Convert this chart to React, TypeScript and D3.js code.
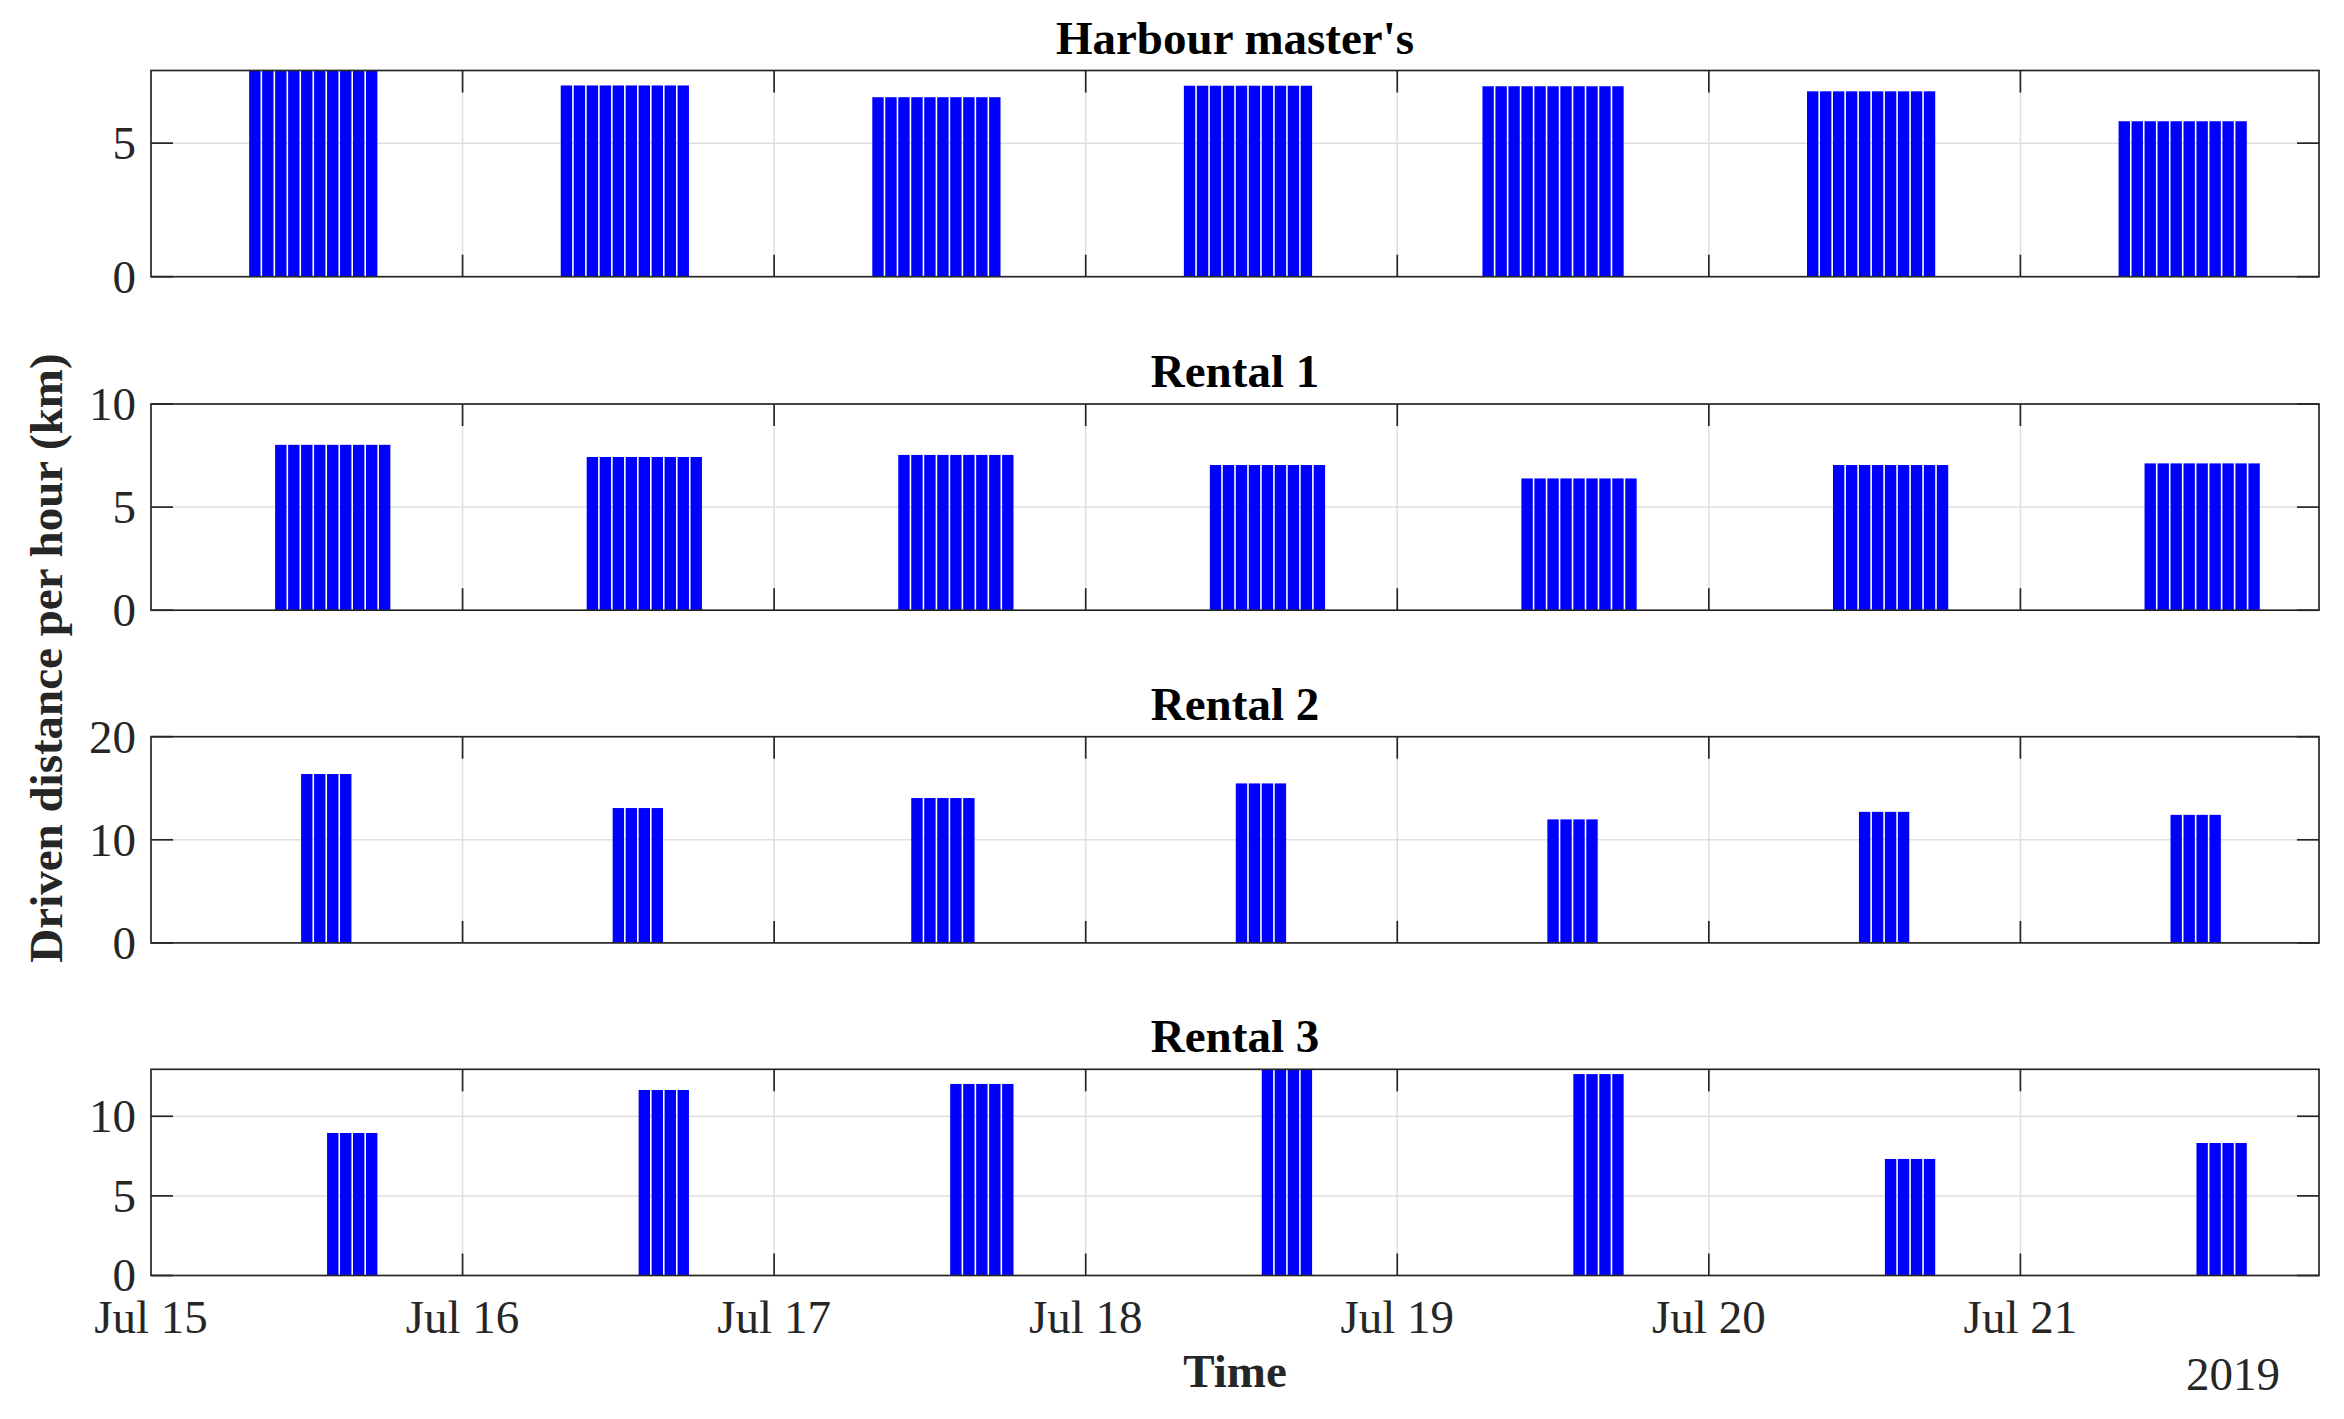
import React from "react";
import * as d3 from "d3";

// ---- Data ----
const dayLabels = ["Jul 15", "Jul 16", "Jul 17", "Jul 18", "Jul 19", "Jul 20", "Jul 21"];
const dayOfMonth = [15, 16, 17, 18, 19, 20, 21];
const yearLabel = "2019";

const titles = ["Harbour master's", "Rental 1", "Rental 2", "Rental 3"];

// active hours (bar centres) per day
const harbourHours = [
  [8, 9, 10, 11, 12, 13, 14, 15, 16, 17],
  [8, 9, 10, 11, 12, 13, 14, 15, 16, 17],
  [8, 9, 10, 11, 12, 13, 14, 15, 16, 17],
  [8, 9, 10, 11, 12, 13, 14, 15, 16, 17],
  [7, 8, 9, 10, 11, 12, 13, 14, 15, 16, 17],
  [8, 9, 10, 11, 12, 13, 14, 15, 16, 17],
  [8, 9, 10, 11, 12, 13, 14, 15, 16, 17],
];
const rental1Hours = [
  [10, 11, 12, 13, 14, 15, 16, 17, 18],
  [10, 11, 12, 13, 14, 15, 16, 17, 18],
  [10, 11, 12, 13, 14, 15, 16, 17, 18],
  [10, 11, 12, 13, 14, 15, 16, 17, 18],
  [10, 11, 12, 13, 14, 15, 16, 17, 18],
  [10, 11, 12, 13, 14, 15, 16, 17, 18],
  [10, 11, 12, 13, 14, 15, 16, 17, 18],
];
const rental2Hours = [
  [12, 13, 14, 15],
  [12, 13, 14, 15],
  [11, 12, 13, 14, 15],
  [12, 13, 14, 15],
  [12, 13, 14, 15],
  [12, 13, 14, 15],
  [12, 13, 14, 15],
];
const rental3Hours = [
  [14, 15, 16, 17],
  [14, 15, 16, 17],
  [14, 15, 16, 17, 18],
  [14, 15, 16, 17],
  [14, 15, 16, 17],
  [14, 15, 16, 17],
  [14, 15, 16, 17],
];

// driven distance per hour (km), same for every hour of a day's block
const harbourValues = [7.72, 7.16, 6.72, 7.15, 7.13, 6.94, 5.82];
const rental1Values = [8.02, 7.43, 7.53, 7.04, 6.39, 7.04, 7.12];
const rental2Values = [16.38, 13.08, 14.05, 15.47, 11.98, 12.71, 12.42];
const rental3Values = [8.95, 11.65, 12.03, 12.95, 12.65, 7.32, 8.32];

const yMaxes = [7.72, 10, 20, 12.95];
const yTicks = [
  [0, 5],
  [0, 5, 10],
  [0, 10, 20],
  [0, 5, 10],
];

const allHours = [harbourHours, rental1Hours, rental2Hours, rental3Hours];
const allValues = [harbourValues, rental1Values, rental2Values, rental3Values];

// ---- Layout ----
const W = 2344;
const H = 1419;
const LEFT = 151;
const RIGHT = 2319;
const TOPS = [70.5, 404, 736.7, 1069.3];
const AX_H = 206.2;
const AXIS_COLOR = "#262626";
const GRID_COLOR = "#dfdfdf";
const FONT = "'Liberation Serif', 'Times New Roman', serif";
const FS = 47;
const TICK_LEN = 22;

const t0 = new Date(2019, 6, 15, 0);
const t1 = new Date(2019, 6, 21, 23);
const x = d3.scaleTime().domain([t0, t1]).range([LEFT, RIGHT]);
const HALF_HOUR = 30 * 60 * 1000;
const dayTicks = dayOfMonth.map((d) => new Date(2019, 6, d, 0));

function Panel({ idx }: { idx: number }) {
  const top = TOPS[idx];
  const bottom = top + AX_H;
  const y = d3.scaleLinear().domain([0, yMaxes[idx]]).range([bottom, top]);
  const hours = allHours[idx];
  const values = allValues[idx];
  const bars: { x0: number; x1: number; v: number; key: string }[] = [];
  hours.forEach((hs, di) => {
    hs.forEach((h) => {
      const c = new Date(2019, 6, dayOfMonth[di], h).getTime();
      bars.push({
        x0: x(new Date(c - HALF_HOUR)),
        x1: x(new Date(c + HALF_HOUR)),
        v: values[di],
        key: `${di}-${h}`,
      });
    });
  });
  const gap = 1.6;
  const innerDays = dayTicks.filter((d) => x(d) > LEFT + 1 && x(d) < RIGHT - 1);
  return (
    <g>
      {/* grid */}
      {innerDays.map((d, i) => (
        <line key={"gx" + i} x1={x(d)} x2={x(d)} y1={top} y2={bottom} stroke={GRID_COLOR} strokeWidth={1.5} />
      ))}
      {yTicks[idx]
        .filter((v) => y(v) < bottom - 1 && y(v) > top + 1)
        .map((v, i) => (
          <line key={"gy" + i} x1={LEFT} x2={RIGHT} y1={y(v)} y2={y(v)} stroke={GRID_COLOR} strokeWidth={1.5} />
        ))}
      {/* bars */}
      {bars.map((b) => (
        <rect
          key={b.key}
          x={b.x0 + gap / 2}
          width={b.x1 - b.x0 - gap}
          y={y(b.v)}
          height={bottom - y(b.v)}
          fill="#0000ff"
        />
      ))}
      {/* ticks */}
      {innerDays.map((d, i) => (
        <g key={"tx" + i}>
          <line x1={x(d)} x2={x(d)} y1={bottom} y2={bottom - TICK_LEN} stroke={AXIS_COLOR} strokeWidth={1.7} />
          <line x1={x(d)} x2={x(d)} y1={top} y2={top + TICK_LEN} stroke={AXIS_COLOR} strokeWidth={1.7} />
        </g>
      ))}
      {yTicks[idx].map((v, i) => (
        <g key={"ty" + i}>
          <line x1={LEFT} x2={LEFT + TICK_LEN} y1={y(v)} y2={y(v)} stroke={AXIS_COLOR} strokeWidth={1.7} />
          <line x1={RIGHT} x2={RIGHT - TICK_LEN} y1={y(v)} y2={y(v)} stroke={AXIS_COLOR} strokeWidth={1.7} />
          <text
            x={LEFT - 15}
            y={y(v)}
            dy="0.34em"
            textAnchor="end"
            fontFamily={FONT}
            fontSize={FS}
            fill={AXIS_COLOR}
          >
            {String(v)}
          </text>
        </g>
      ))}
      {/* box */}
      <rect x={LEFT} y={top} width={RIGHT - LEFT} height={AX_H} fill="none" stroke={AXIS_COLOR} strokeWidth={1.7} />
      {/* title */}
      <text
        x={(LEFT + RIGHT) / 2}
        y={top - 17}
        textAnchor="middle"
        fontFamily={FONT}
        fontWeight="bold"
        fontSize={FS}
        fill="#000"
      >
        {titles[idx]}
      </text>
    </g>
  );
}

export default function App() {
  const lastBottom = TOPS[3] + AX_H;
  return (
    <div style={{ position: "absolute", left: 0, top: 0, width: W, height: H, background: "#fff" }}>
      <svg width={W} height={H} viewBox={`0 0 ${W} ${H}`} style={{ display: "block" }}>
        <rect x={0} y={0} width={W} height={H} fill="#fff" />
        {[0, 1, 2, 3].map((i) => (
          <Panel key={i} idx={i} />
        ))}
        {dayTicks.map((d, i) => (
          <text
            key={"xl" + i}
            x={x(d)}
            y={lastBottom + 57}
            textAnchor="middle"
            fontFamily={FONT}
            fontSize={FS}
            fill={AXIS_COLOR}
          >
            {dayLabels[i]}
          </text>
        ))}
        <text x={2280} y={1390} textAnchor="end" fontFamily={FONT} fontSize={FS} fill={AXIS_COLOR}>
          {yearLabel}
        </text>
        <text
          x={(LEFT + RIGHT) / 2}
          y={1387}
          textAnchor="middle"
          fontFamily={FONT}
          fontWeight="bold"
          fontSize={FS}
          fill={AXIS_COLOR}
        >
          Time
        </text>
        <text
          transform={`translate(62, 658) rotate(-90)`}
          textAnchor="middle"
          fontFamily={FONT}
          fontWeight="bold"
          fontSize={FS}
          fill={AXIS_COLOR}
        >
          Driven distance per hour (km)
        </text>
      </svg>
    </div>
  );
}
